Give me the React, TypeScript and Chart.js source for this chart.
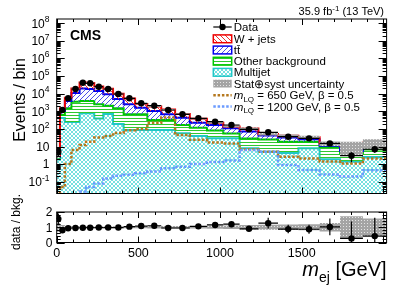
import React, { useEffect, useRef } from "react";
import { Chart, registerables } from "chart.js";

Chart.register(...registerables);

// ---------------- data ----------------
const binEdges = [0, 20, 50, 90, 140, 180, 230, 285, 345, 410, 480, 555, 640, 725, 815, 920, 1020, 1120, 1235, 1355, 1480, 1610, 1735, 1875, 2020];
const dataEvents = [5, 1186, 5480, 18500, 42170, 38990, 25000, 18500, 9620, 5480, 2850, 2080, 1186, 676, 400, 256, 167, 95, 64, 36, 29, 15, 3, 7];
const multijet = [1.8, 416, 247, 247, 769, 769, 390, 703, 190, 87, 87, 87, 87, 56, 40, 29, 29, 7.9, 5.1, 4.3, 7.9, 1.9, 1.4, 2.5];
const otherBkg = [0.6, 200, 1232, 3263, 3077, 3077, 2110, 1377, 1289, 589, 589, 234, 234, 111, 77, 52, 26, 20.6, 20, 14.4, 10.8, 7.5, 2.6, 4.3];
const ttbar = [0.3, 423, 2367, 7455, 15870, 14650, 11720, 7170, 3521, 1824, 927, 719, 355, 265, 108, 86, 53, 42.5, 17, 13.7, 6.9, 1.7, 1.5, 3.9];
const wjets = [0.5, 440, 2044, 8500, 23750, 21700, 11290, 9630, 4816, 2770, 1037, 850, 574, 280, 152, 56, 31, 34.6, 8.5, 8.6, 8, 3.8, 5.5, 5.8];
const bkgRelUnc = [0.3, 0.15, 0.07, 0.06, 0.06, 0.06, 0.06, 0.06, 0.06, 0.07, 0.07, 0.08, 0.08, 0.08, 0.09, 0.1, 0.12, 0.14, 0.16, 0.18, 0.2, 0.28, 0.72, 0.58];
const lq650 = [0.001, 0.05, 1.0, 6.3, 12, 18.7, 33, 40, 58, 85, 100, 220, 440, 45, 24, 17, 15, 6.9, 5.1, 2.6, 2.1, 1.4, 1.1, 2.1];
const lq1200 = [0.002, 0.002, 0.003, 0.006, 0.028, 0.05, 0.08, 0.15, 0.22, 0.25, 0.3, 0.38, 0.58, 0.71, 1.0, 1.3, 1.6, 6.3, 5.0, 0.9, 0.46, 0.26, 0.2, 0.45];
const ratioValues = [1.55, 0.8, 0.93, 0.95, 0.97, 0.97, 0.98, 0.98, 0.98, 1.04, 1.08, 1.1, 0.95, 0.95, 1.06, 1.15, 1.2, 0.9, 1.27, 0.88, 0.87, 1.02, 0.27, 0.42];
const ratioErrUp = [0.35, 0.05, 0.02, 0.02, 0.02, 0.02, 0.02, 0.02, 0.02, 0.02, 0.03, 0.03, 0.04, 0.05, 0.06, 0.08, 0.15, 0.15, 0.35, 0.28, 0.3, 0.55, 1.1, 1.2];
const ratioErrDown = [0.35, 0.05, 0.02, 0.02, 0.02, 0.02, 0.02, 0.02, 0.02, 0.02, 0.03, 0.03, 0.04, 0.05, 0.06, 0.08, 0.15, 0.15, 0.35, 0.28, 0.3, 0.55, 0.25, 0.42];

const xTickValues = [0, 500, 1000, 1500];
const xTickLabels = ["0", "500", "1000", "1500"];
const ratioTickValues = [0, 1, 2];
const ratioTickLabels = ["0", "1", "2"];
const legendLabels = ["Data", "W + jets", "tt\u0304", "Other background", "Multijet", "Stat\u2295syst uncertainty"];
const signalMasses = ["650", "1200"];
const signalBeta = "0.5";

const X_MIN = 0;
const X_MAX = 2020;
const Y_MIN = 0.0214;
const Y_MAX = 1.75e8;

const FONT = '"Liberation Sans", Arial, Helvetica, sans-serif';
const COL = {
  w: "#ee0000", wHatch: "#ee3030",
  tt: "#0000ee", ttHatch: "#5050e8",
  other: "#00c800", otherHatch: "#30c830",
  mj: "#20c8c8", mjHatch: "#50d8d8",
  lq650: "#b5781e", lq1200: "#6b9bff",
};

// ---------------- helpers ----------------
const centers = binEdges.slice(0, -1).map((e, i) => (e + binEdges[i + 1]) / 2);
function stepPoints(vals: number[]) {
  const pts: { x: number; y: number }[] = [];
  vals.forEach((v, i) => {
    pts.push({ x: binEdges[i], y: v });
    pts.push({ x: binEdges[i + 1], y: v });
  });
  return pts;
}
function add(a: number[], b: number[]) {
  return a.map((v, i) => v + b[i]);
}
function fnt(size: number, style = "") {
  return `${style} ${size}px ${FONT}`.trim();
}
type Part = { t: string; size: number; style?: string; dy?: number };
function richWidth(ctx: CanvasRenderingContext2D, parts: Part[]) {
  let w = 0;
  for (const p of parts) {
    ctx.font = fnt(p.size, p.style);
    w += ctx.measureText(p.t).width;
  }
  return w;
}
function drawRich(ctx: CanvasRenderingContext2D, parts: Part[], x: number, y: number, align: "left" | "right" | "center") {
  const w = richWidth(ctx, parts);
  let cx = align === "right" ? x - w : align === "center" ? x - w / 2 : x;
  ctx.textAlign = "left";
  ctx.textBaseline = "alphabetic";
  for (const p of parts) {
    ctx.font = fnt(p.size, p.style);
    ctx.fillText(p.t, cx, y + (p.dy || 0));
    cx += ctx.measureText(p.t).width;
  }
}
function seg(ctx: CanvasRenderingContext2D, x1: number, y1: number, x2: number, y2: number) {
  ctx.beginPath();
  ctx.moveTo(x1, y1);
  ctx.lineTo(x2, y2);
  ctx.stroke();
}
function tile(size: number, draw: (g: CanvasRenderingContext2D, s: number) => void) {
  const c = document.createElement("canvas");
  c.width = size;
  c.height = size;
  const g = c.getContext("2d")!;
  draw(g, size);
  return g.createPattern(c, "repeat") as CanvasPattern;
}
function makePatterns() {
  return {
    w: tile(5, (g, s) => {
      g.strokeStyle = COL.wHatch;
      g.lineWidth = 1;
      for (const k of [-s, 0, s]) seg(g, k - 1, -1, k + s + 1, s + 1);
    }),
    tt: tile(5, (g, s) => {
      g.strokeStyle = COL.ttHatch;
      g.lineWidth = 1;
      for (const k of [-s, 0, s]) seg(g, k - 1, s + 1, k + s + 1, -1);
    }),
    other: tile(3, (g, s) => {
      g.fillStyle = COL.otherHatch;
      g.fillRect(0, 1, s, 1);
    }),
    mj: tile(4, (g, s) => {
      g.strokeStyle = COL.mjHatch;
      g.lineWidth = 0.8;
      for (const k of [-s, 0, s]) {
        seg(g, k - 1, -1, k + s + 1, s + 1);
        seg(g, k - 1, s + 1, k + s + 1, -1);
      }
    }),
    unc: tile(3, (g, s) => {
      g.fillStyle = "#a4a4a4";
      g.fillRect(0, 0, s, s);
      g.fillStyle = "#e4e4e4";
      g.fillRect(1, 1, 1, 1);
    }),
  };
}
type Pats = ReturnType<typeof makePatterns>;

function drawXTicks(ctx: CanvasRenderingContext2D, xs: any, top: number, bottom: number, maj: number, min: number) {
  for (let v = 0; v <= X_MAX; v += 100) {
    const px = Math.round(xs.getPixelForValue(v)) + 0.5;
    const len = v % 500 === 0 ? maj : min;
    seg(ctx, px, bottom, px, bottom - len);
    seg(ctx, px, top, px, top + len);
  }
}

// ---------------- main panel ----------------
function buildMain(canvas: HTMLCanvasElement, pats: Pats) {
  const cumMJ = multijet.slice();
  const cumOther = add(cumMJ, otherBkg);
  const cumTT = add(cumOther, ttbar);
  const cumTot = add(cumTT, wjets);
  const uncLo = cumTot.map((v, i) => Math.max(v * (1 - bkgRelUnc[i]), 1e-4));
  const uncHi = cumTot.map((v, i) => v * (1 + bkgRelUnc[i]));

  const decor = {
    id: "mainDecor",
    afterDatasetsDraw(chart: any) {
      const { ctx, chartArea } = chart;
      const xs = chart.scales.x, ys = chart.scales.y;
      ctx.save();
      ctx.beginPath();
      ctx.rect(chartArea.left, chartArea.top, chartArea.right - chartArea.left, chartArea.bottom - chartArea.top);
      ctx.clip();
      ctx.strokeStyle = "#000";
      ctx.lineWidth = 1.2;
      dataEvents.forEach((n, i) => {
        const py = ys.getPixelForValue(n);
        seg(ctx, xs.getPixelForValue(binEdges[i]), py, xs.getPixelForValue(binEdges[i + 1]), py);
        const e = Math.sqrt(n);
        const cx = xs.getPixelForValue(centers[i]);
        seg(ctx, cx, ys.getPixelForValue(n + e), cx, ys.getPixelForValue(Math.max(n - e, 1e-4)));
      });
      ctx.restore();
    },
    afterDraw(chart: any) {
      const { ctx, chartArea } = chart;
      const { left, right, top, bottom } = chartArea;
      const xs = chart.scales.x, ys = chart.scales.y;
      ctx.save();
      ctx.strokeStyle = "#000";
      ctx.lineWidth = 1;
      drawXTicks(ctx, xs, top, bottom, 6, 3);
      for (let d = -2; d <= 8; d++) {
        for (let m = 1; m <= 9; m++) {
          const v = m * Math.pow(10, d);
          if (v < Y_MIN || v > Y_MAX) continue;
          const py = Math.round(ys.getPixelForValue(v)) + 0.5;
          const len = m === 1 ? 8 : 4;
          seg(ctx, left, py, left + len, py);
          seg(ctx, right, py, right - len, py);
        }
      }
      ctx.strokeRect(left, top, right - left, bottom - top);

      ctx.fillStyle = "#000";
      for (let d = -1; d <= 8; d++) {
        const py = ys.getPixelForValue(Math.pow(10, d));
        let parts: Part[];
        if (d === 0) parts = [{ t: "1", size: 12 }];
        else if (d === 1) parts = [{ t: "10", size: 12 }];
        else parts = [{ t: "10", size: 12 }, { t: String(d), size: 8.5, dy: -5.5 }];
        drawRich(ctx, parts, 49.5, py + 4.3, "right");
      }

      // axis title
      ctx.save();
      ctx.translate(24.5, 100);
      ctx.rotate(-Math.PI / 2);
      ctx.font = fnt(16);
      ctx.textAlign = "center";
      ctx.textBaseline = "alphabetic";
      ctx.fillText("Events / bin", 0, 0);
      ctx.restore();

      // CMS + lumi
      ctx.font = fnt(14, "bold");
      ctx.textAlign = "left";
      ctx.fillText("CMS", 70, 40);
      drawRich(ctx, [
        { t: "35.9 fb", size: 11 },
        { t: "-1", size: 8, dy: -4 },
        { t: " (13 TeV)", size: 11 },
      ], 384, 15, "right");

      // legend
      const rows = [27, 38.8, 50, 61.2, 72.3, 83.6, 95.3, 106.5];
      const bx0 = 213.3, bx1 = 231.7, tx = 233.8;
      const boxes: [CanvasPattern, string | null][] = [
        [pats.w, COL.w],
        [pats.tt, COL.tt],
        [pats.other, COL.other],
        [pats.mj, COL.mj],
        [pats.unc, null],
      ];
      // Data
      ctx.strokeStyle = "#000";
      ctx.lineWidth = 1.2;
      seg(ctx, bx0, rows[0], bx1, rows[0]);
      ctx.beginPath();
      ctx.arc((bx0 + bx1) / 2, rows[0], 3.2, 0, Math.PI * 2);
      ctx.fillStyle = "#000";
      ctx.fill();
      boxes.forEach(([p, c], i) => {
        const cy = rows[i + 1];
        ctx.fillStyle = p;
        ctx.fillRect(bx0, cy - 3.9, bx1 - bx0, 7.8);
        if (c) {
          ctx.strokeStyle = c;
          ctx.lineWidth = 1.5;
          ctx.strokeRect(bx0, cy - 3.9, bx1 - bx0, 7.8);
        }
      });
      ctx.fillStyle = "#000";
      legendLabels.forEach((l, i) => {
        drawRich(ctx, [{ t: l, size: 11.5 }], tx, rows[i] + 4.1, "left");
      });
      const sigCols = [COL.lq650, COL.lq1200];
      signalMasses.forEach((m, i) => {
        const cy = rows[6 + i];
        ctx.strokeStyle = sigCols[i];
        ctx.lineWidth = 2.5;
        ctx.setLineDash([2.5, 1.8]);
        seg(ctx, bx0, cy, bx1, cy);
        ctx.setLineDash([]);
        ctx.fillStyle = "#000";
        drawRich(ctx, [
          { t: "m", size: 11.5, style: "italic" },
          { t: "LQ", size: 8, dy: 2.5 },
          { t: ` = ${m} GeV, \u03b2 = ${signalBeta}`, size: 11.5 },
        ], tx, cy + 4.1, "left");
      });
      ctx.restore();
    },
  };

  const line = (data: number[], border: string, bg: any, fill: any, order: number, width = 2) => ({
    type: "line" as const,
    data: stepPoints(data),
    borderColor: border,
    borderWidth: width,
    backgroundColor: bg,
    fill,
    order,
    pointRadius: 0,
    tension: 0,
  });

  return new Chart(canvas, {
    type: "line",
    data: {
      datasets: [
        line(cumMJ, COL.mj, pats.mj, { value: Y_MIN }, 10),
        line(cumOther, COL.other, pats.other, "-1", 9),
        line(cumTT, COL.tt, pats.tt, "-1", 8),
        line(cumTot, COL.w, pats.w, "-1", 7),
        line(uncLo, "rgba(0,0,0,0)", "rgba(0,0,0,0)", false, 6, 1),
        line(uncHi, "rgba(0,0,0,0)", pats.unc, "-1", 5, 1),
        { ...line(lq650, COL.lq650, "rgba(0,0,0,0)", false, 4, 2.5), borderDash: [2.5, 1.8] },
        { ...line(lq1200, COL.lq1200, "rgba(0,0,0,0)", false, 3, 2.5), borderDash: [2.5, 1.8] },
        {
          type: "line" as const,
          data: centers.map((c, i) => ({ x: c, y: dataEvents[i] })),
          showLine: false,
          pointRadius: 3.2,
          pointBackgroundColor: "#000",
          pointBorderColor: "#000",
          pointBorderWidth: 0,
          order: 1,
        },
      ] as any,
    },
    options: {
      animation: false,
      responsive: false,
      maintainAspectRatio: false,
      events: [],
      layout: { padding: { left: 56.7, right: 20.4, top: 19, bottom: 6.5 } },
      scales: {
        x: { type: "linear", min: X_MIN, max: X_MAX, display: false },
        y: { type: "logarithmic", min: Y_MIN, max: Y_MAX, display: false },
      },
      plugins: { legend: { display: false }, tooltip: { enabled: false } },
    },
    plugins: [decor],
  });
}

// ---------------- ratio panel ----------------
function buildRatio(canvas: HTMLCanvasElement, pats: Pats) {
  const bandLo = bkgRelUnc.map((u) => Math.max(1 - u, 0));
  const bandHi = bkgRelUnc.map((u) => 1 + u);
  const decor = {
    id: "ratioDecor",
    afterDatasetsDraw(chart: any) {
      const { ctx, chartArea } = chart;
      const xs = chart.scales.x, ys = chart.scales.y;
      ctx.save();
      ctx.beginPath();
      ctx.rect(chartArea.left, chartArea.top, chartArea.right - chartArea.left, chartArea.bottom - chartArea.top);
      ctx.clip();
      ctx.strokeStyle = "#000";
      ctx.lineWidth = 1.2;
      ratioValues.forEach((r, i) => {
        const py = ys.getPixelForValue(r);
        seg(ctx, xs.getPixelForValue(binEdges[i]), py, xs.getPixelForValue(binEdges[i + 1]), py);
        const cx = xs.getPixelForValue(centers[i]);
        seg(ctx, cx, ys.getPixelForValue(r + ratioErrUp[i]), cx, ys.getPixelForValue(r - ratioErrDown[i]));
      });
      ctx.restore();
    },
    afterDraw(chart: any) {
      const { ctx, chartArea } = chart;
      const { left, right, top, bottom } = chartArea;
      const xs = chart.scales.x, ys = chart.scales.y;
      ctx.save();
      ctx.strokeStyle = "#000";
      ctx.lineWidth = 1;
      drawXTicks(ctx, xs, top, bottom, 6, 3);
      for (let v = 0; v <= 2.0001; v += 0.2) {
        const py = Math.round(ys.getPixelForValue(v)) + 0.5;
        const major = Math.abs(v - Math.round(v)) < 1e-6;
        const len = major ? 8 : 4;
        seg(ctx, left, py, left + len, py);
        seg(ctx, right, py, right - len, py);
      }
      ctx.strokeRect(left, top, right - left, bottom - top);
      ctx.fillStyle = "#000";
      ratioTickValues.forEach((v, i) => {
        drawRich(ctx, [{ t: ratioTickLabels[i], size: 12 }], 52.5, ys.getPixelForValue(v) + 4.3, "right");
      });
      xTickValues.forEach((v, i) => {
        drawRich(ctx, [{ t: xTickLabels[i], size: 12.5 }], xs.getPixelForValue(v), bottom + 14, "center");
      });
      drawRich(ctx, [
        { t: "m", size: 20, style: "italic" },
        { t: "ej", size: 14, dy: 6 },
        { t: " [GeV]", size: 20 },
      ], right, bottom + 33.5, "right");
      ctx.save();
      ctx.translate(20, top + 10);
      ctx.rotate(-Math.PI / 2);
      ctx.font = fnt(12);
      ctx.textAlign = "center";
      ctx.textBaseline = "alphabetic";
      ctx.fillText("data / bkg.", 0, 0);
      ctx.restore();
      ctx.restore();
    },
  };
  return new Chart(canvas, {
    type: "line",
    data: {
      datasets: [
        { data: stepPoints(bandLo), borderColor: "rgba(0,0,0,0)", borderWidth: 1, fill: false, pointRadius: 0, order: 3 },
        { data: stepPoints(bandHi), borderColor: "rgba(0,0,0,0)", borderWidth: 1, backgroundColor: pats.unc, fill: "-1", pointRadius: 0, order: 2 },
        {
          data: centers.map((c, i) => ({ x: c, y: ratioValues[i] })),
          showLine: false,
          pointRadius: 3.2,
          pointBackgroundColor: "#000",
          pointBorderColor: "#000",
          pointBorderWidth: 0,
          order: 1,
        },
      ] as any,
    },
    options: {
      animation: false,
      responsive: false,
      maintainAspectRatio: false,
      events: [],
      layout: { padding: { left: 56.7, right: 20.4, top: 32, bottom: 49.5 } },
      scales: {
        x: { type: "linear", min: X_MIN, max: X_MAX, display: false },
        y: { type: "linear", min: 0, max: 2, display: false },
      },
      plugins: { legend: { display: false }, tooltip: { enabled: false } },
    },
    plugins: [decor],
  });
}

export default function App() {
  const mainRef = useRef<HTMLCanvasElement>(null);
  const ratioRef = useRef<HTMLCanvasElement>(null);
  useEffect(() => {
    const pats = makePatterns();
    const main = buildMain(mainRef.current!, pats);
    const ratio = buildRatio(ratioRef.current!, pats);
    return () => {
      main.destroy();
      ratio.destroy();
    };
  }, []);
  return (
    <div style={{ position: "absolute", left: 0, top: 0, width: 407, height: 292, background: "#fff", overflow: "hidden" }}>
      <canvas ref={mainRef} width={407} height={200} style={{ position: "absolute", left: 0, top: 0, width: 407, height: 200 }} />
      <canvas ref={ratioRef} width={407} height={112} style={{ position: "absolute", left: 0, top: 180, width: 407, height: 112 }} />
    </div>
  );
}
